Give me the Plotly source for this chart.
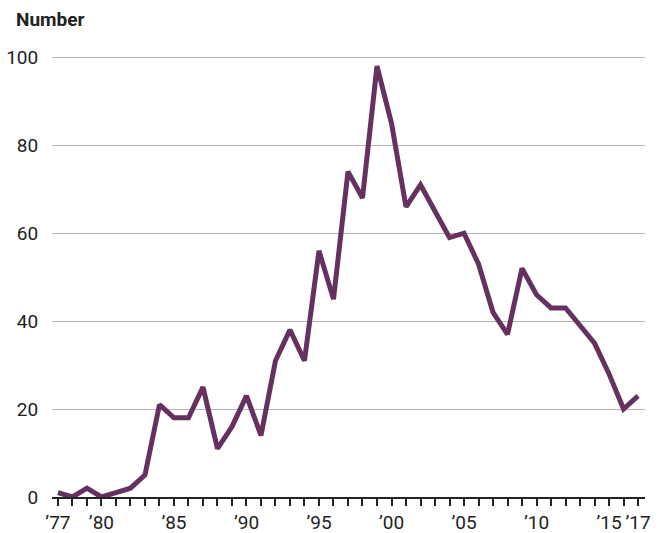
import plotly.graph_objects as go

years = list(range(1977, 2018))
values = [1, 0, 2, 0, 1, 2, 5, 21, 18, 18, 25, 11, 16, 23, 14, 31, 38, 31, 56, 45,
          74, 68, 98, 85, 66, 71, 65, 59, 60, 53, 42, 37, 52, 46, 43, 43, 39, 35, 28, 20, 23]
label_years = [1977, 1980, 1985, 1990, 1995, 2000, 2005, 2010, 2015, 2017]
y_ticks = [0, 20, 40, 60, 80, 100]

ticktext = ["\u2019" + str(y)[2:] if y in label_years else "" for y in years]

FONT = "Roboto, sans-serif"

fig = go.Figure()
fig.add_trace(go.Scatter(x=years, y=values, mode="lines",
                         line=dict(color="#66305f", width=5),
                         hoverinfo="x+y"))

fig.update_layout(
    width=662, height=533,
    margin=dict(l=52, r=17, t=56, b=36, autoexpand=False),
    paper_bgcolor="white", plot_bgcolor="white",
    showlegend=False,
    font=dict(family=FONT, size=19, color="#222"),
    xaxis=dict(range=[1976.59, 2017.48], tickmode="array", tickvals=years, ticktext=ticktext,
               tickangle=0, automargin=False,
               ticks="outside", ticklen=7, tickwidth=2, tickcolor="#222",
               showline=True, linecolor="#222", linewidth=2, showgrid=False, zeroline=False,
               tickfont=dict(family=FONT, size=19, color="#222")),
    yaxis=dict(range=[0, 100.3], tickvals=y_ticks, showgrid=True, gridcolor="#b4b4b4", gridwidth=1,
               automargin=False,
               zeroline=False, showline=False, ticks="outside", ticklen=9, tickcolor="rgba(0,0,0,0)",
               tickfont=dict(family=FONT, size=19, color="#222")),
    annotations=[dict(text="<b>Number</b>", xref="paper", yref="paper", x=-38/593, y=1.0,
                      xanchor="left", yanchor="bottom", yshift=23, showarrow=False,
                      font=dict(family=FONT, size=19, color="#222"))],
)

fig.write_html("out.html", config={"displayModeBar": False},
               post_script="document.body.style.margin='0';document.body.style.overflow='hidden';")
